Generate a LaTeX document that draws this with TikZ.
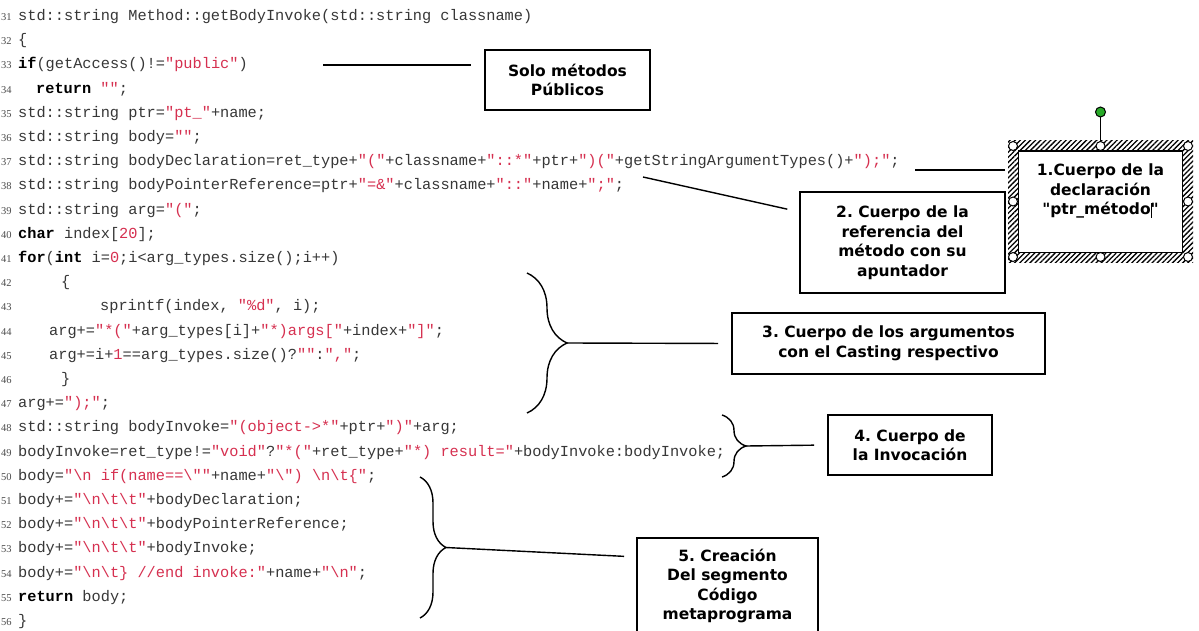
\documentclass[tikz,border=0pt]{standalone}
\usepackage{fontspec}
\usepackage{xcolor}
\setmainfont{DejaVu Sans}
\setmonofont{Liberation Mono}
\newfontfamily\numfont{Liberation Serif}
\usepackage{tikz}
\usetikzlibrary{decorations.pathreplacing, positioning, arrows.meta, calc, patterns.meta}

\definecolor{codered}{RGB}{214,48,80}
\definecolor{codegray}{RGB}{55,55,55}
\definecolor{handlegreen}{RGB}{40,170,40}

\newcommand{\kw}[1]{\textbf{\color{black}#1}}
\newcommand{\str}[1]{\textcolor{codered}{#1}}
\newcommand{\bs}{\textbackslash}
\frenchspacing

\begin{document}
\begin{tikzpicture}[ x = 1pt, y = -1pt
                     , codeline/.style = { anchor = base west
                                         , inner sep = 0pt
                                         , text = codegray
                                         , font = \ttfamily\fontsize{15.3}{18}\selectfont }
                     , lineno/.style = { anchor = base west
                                       , inner sep = 0pt
                                       , text = gray!60!black
                                       , font = \numfont\fontsize{10.5}{12}\selectfont }
                     , note/.style = { rectangle
                                     , draw = black
                                     , line width = 1.7pt
                                     , fill = white
                                     , align = center
                                     , inner sep = 0pt
                                     , font = \bfseries\fontsize{15.5}{19.5}\selectfont }
                     , conn/.style = { line width = 1.4pt, shorten > = 13pt }
                     , curly/.style = { decorate
                                      , decoration = {brace, amplitude = #1}
                                      , line width = 1.4pt }
                     , handle/.style = { circle
                                       , draw = black
                                       , fill = white
                                       , line width = 1pt
                                       , inner sep = 0pt
                                       , minimum size = 9pt }
                     ]

  \clip (0,0) rectangle (1199,631);
  \fill[white] (0,0) rectangle (1199,631);

  % line numbers
  \foreach \n [count = \k from 0] in {31,...,56}
    \node[lineno] (n\n) at (1, 20.5 + 24.2*\k) {\n};

  % code
  \node[codeline] (l31) at (18,20.5) {std::string Method::getBodyInvoke(std::string classname)};
  \node[codeline] (l32) at (18,44.7) {\{};
  \node[codeline] (l33) at (18,68.9) {\kw{if}(getAccess()!=\str{"public"})};
  \node[codeline] (l34) at (36,93.1) {\kw{return} \str{""};};
  \node[codeline] (l35) at (18,117.3) {std::string ptr=\str{"pt\_"}+name;};
  \node[codeline] (l36) at (18,141.5) {std::string body=\str{""};};
  \node[codeline] (l37) at (18,165.7) {std::string bodyDeclaration=ret\_type+\str{"("}+classname+\str{"::*"}+ptr+\str{")("}+getStringArgumentTypes()+\str{");"};};
  \node[codeline] (l38) at (18,189.9) {std::string bodyPointerReference=ptr+\str{"=\&"}+classname+\str{"::"}+name+\str{";"};};
  \node[codeline] (l39) at (18,214.1) {std::string arg=\str{"("};};
  \node[codeline] (l40) at (18,238.3) {\kw{char} index[\str{20}];};
  \node[codeline] (l41) at (18,262.5) {\kw{for}(\kw{int} i=\str{0};i<arg\_types.size();i++)};
  \node[codeline] (l42) at (61,286.7) {\{};
  \node[codeline] (l43) at (100,310.9) {sprintf(index, \str{"\%d"}, i);};
  \node[codeline] (l44) at (49,335.1) {arg+=\str{"*("}+arg\_types[i]+\str{"*)args["}+index+\str{"]"};};
  \node[codeline] (l45) at (49,359.3) {arg+=i+\str{1}==arg\_types.size()?\str{""}:\str{","};};
  \node[codeline] (l46) at (61,383.5) {\}};
  \node[codeline] (l47) at (18,407.7) {arg+=\str{");"};};
  \node[codeline] (l48) at (18,431.9) {std::string bodyInvoke=\str{"(object->*"}+ptr+\str{")"}+arg;};
  \node[codeline] (l49) at (18,456.1) {bodyInvoke=ret\_type!=\str{"void"}?\str{"*("}+ret\_type+\str{"*) result="}+bodyInvoke:bodyInvoke;};
  \node[codeline] (l50) at (18,480.3) {body=\str{"\bs n if(name==\bs""}+name+\str{"\bs") \bs n\bs t\{"};};
  \node[codeline] (l51) at (18,504.5) {body+=\str{"\bs n\bs t\bs t"}+bodyDeclaration;};
  \node[codeline] (l52) at (18,528.7) {body+=\str{"\bs n\bs t\bs t"}+bodyPointerReference;};
  \node[codeline] (l53) at (18,552.9) {body+=\str{"\bs n\bs t\bs t"}+bodyInvoke;};
  \node[codeline] (l54) at (18,577.1) {body+=\str{"\bs n\bs t\} //end invoke:"}+name+\str{"\bs n"};};
  \node[codeline] (l55) at (18,601.3) {\kw{return} body;};
  \node[codeline] (l56) at (18,625.5) {\}};

  % notes
  \node[note, minimum width = 165pt, minimum height = 60pt] (public) at (567.5,80)
    {Solo métodos\\Públicos};
  \node[note, minimum width = 205pt, minimum height = 101pt] (pointer) at (902.5,242.5)
    {2. Cuerpo de la\\referencia del\\método con su\\apuntador};
  \node[note, minimum width = 313pt, minimum height = 61pt] (casting) at (888.5,343.5)
    {3. Cuerpo de los argumentos\\con el Casting respectivo};
  \node[note, minimum width = 164pt, minimum height = 60pt] (invoke) at (910,445)
    {4. Cuerpo de\\la Invocación};
  \node[note, anchor = north, minimum width = 181pt, inner ysep = 11pt, text depth = 60pt] (segment) at (727.5,537)
    {5. Creación\\Del segmento\\Código\\metaprograma};

  % selected note
  \fill[pattern = {Lines[angle = 45, distance = 3.6pt, line width = 1.3pt]}] (1008,141) rectangle (1193,262);
  \node[note, anchor = north, minimum width = 164pt, inner ysep = 13pt, text depth = 25pt] (declaration) at (1100.5,150)
    {1.Cuerpo de la\\declaración\\\textquotedbl ptr\_método\rlap{\kern0.5pt\rule[-3pt]{0.9pt}{15pt}}\textquotedbl};
  \foreach \hx/\hy [count = \h] in {1013/146, 1100.5/146, 1188/146, 1013/201.5, 1188/201.5, 1013/257, 1100.5/257, 1188/257}
    \node[handle] (h\h) at (\hx,\hy) {};
  \node[handle, fill = handlegreen, minimum size = 10pt] (rotate) at (1100.5,112) {};
  \draw[line width = 1pt] (rotate) -- (h2);

  % braces
  \draw[curly = 40pt] (527,273) -- (527,413);
  \draw[curly = 24pt] (722,415) -- (722,477);
  \draw[curly = 26pt] (420,477) -- (420,618);
  \coordinate (argtip) at (567,343);
  \coordinate (invtip) at (746,446);
  \coordinate (bodytip) at (446,547.5);

  % connectors
  \coordinate (pub) at (323,65);
  \coordinate (decl) at (915,170);
  \coordinate (ptrref) at (643,177);
  \coordinate (ptrend) at (800,212);
  \coordinate (bodyend) at (637,557);

  \draw[conn] (pub) -- (pub -| public.west);
  \draw[conn] (decl) -- (decl -| declaration.west);
  \draw[conn] (ptrref) -- (ptrend);
  \draw[conn] (argtip) -- (casting.west);
  \draw[conn] (invtip) -- (invoke.west);
  \draw[conn] (bodytip) -- (bodyend);

\end{tikzpicture}
\end{document}
